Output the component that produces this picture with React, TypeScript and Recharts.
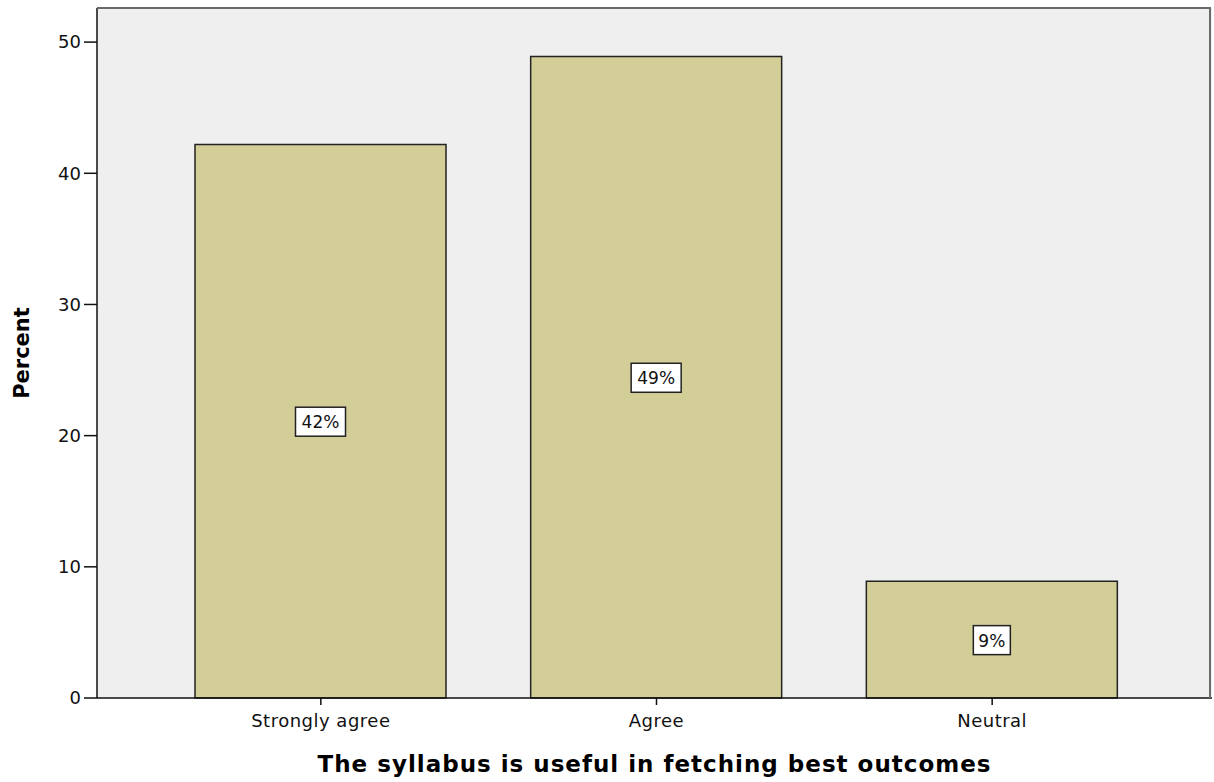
import { BarChart, Bar, XAxis, YAxis, CartesianGrid, LabelList, Label } from 'recharts'

const categories = ['Strongly agree', 'Agree', 'Neutral']
const percents = [42.2, 48.9, 8.9]
const percentLabels = ['42%', '49%', '9%']
const yTicks = [0, 10, 20, 30, 40, 50]

const data = categories.map((c, i) => ({ name: c, value: percents[i] }))

const FONT = 'DejaVu Sans, sans-serif'

// white boxed percentage in the middle of each bar
const BoxLabel = (props: any) => {
  const { x, y, width, height, index } = props
  const text = percentLabels[index]
  const cx = x + width / 2
  const cy = y + height / 2
  const w = text.length * 13 + 11
  return (
    <g>
      <rect x={cx - w / 2} y={cy - 14} width={w} height={29} fill="#ffffff" stroke="#222" strokeWidth={1.5} />
      <text x={cx} y={cy + 7} textAnchor="middle" fontSize={17} fontFamily={FONT} fill="#111">
        {text}
      </text>
    </g>
  )
}

export default function App() {
  return (
    <div style={{ position: 'absolute', left: 0, top: 0, width: 1214, height: 782, background: '#fff' }}>
      <BarChart width={1214} height={782} data={data} margin={{ top: 8, right: 2, left: 0, bottom: 0 }} barSize={251}>
        <CartesianGrid horizontal={false} vertical={false} fill="#efefef" />
        <XAxis
          dataKey="name"
          height={84}
          tickSize={7}
          tickMargin={9}
          tickLine={{ stroke: '#111', strokeWidth: 1.5 }}
          axisLine={{ stroke: '#111', strokeWidth: 1.5 }}
          padding={{ left: 56, right: 52 }}
          tick={{ fill: '#111', fontSize: 18, fontFamily: FONT, letterSpacing: 0.5 }}
        >
          <Label
            value="The syllabus is useful in fetching best outcomes"
            position="insideBottom"
            offset={10}
            style={{ fill: '#000', fontSize: 23, fontWeight: 'bold', fontFamily: FONT, letterSpacing: 1 }}
          />
        </XAxis>
        <YAxis
          width={97}
          domain={[0, 52.6]}
          ticks={yTicks}
          tickSize={13}
          tickMargin={3}
          tickLine={{ stroke: '#111', strokeWidth: 1.5 }}
          axisLine={{ stroke: '#111', strokeWidth: 1.5 }}
          tick={{ fill: '#111', fontSize: 18, fontFamily: FONT }}
        >
          <Label
            value="Percent"
            angle={-90}
            position="insideLeft"
            offset={22}
            style={{ textAnchor: 'middle', fill: '#000', fontSize: 21, fontWeight: 'bold', fontFamily: FONT }}
          />
        </YAxis>
        <Bar dataKey="value" fill="#d3cd98" stroke="#222" strokeWidth={1.5} isAnimationActive={false}>
          <LabelList dataKey="value" content={<BoxLabel />} />
        </Bar>
      </BarChart>
      {/* frame on the top and right of the plot area */}
      <div
        style={{
          position: 'absolute',
          left: 97,
          top: 7,
          width: 1114,
          height: 691,
          borderTop: '2px solid #6a6a6a',
          borderRight: '2px solid #6a6a6a',
          boxSizing: 'border-box',
          pointerEvents: 'none',
        }}
      />
    </div>
  )
}
